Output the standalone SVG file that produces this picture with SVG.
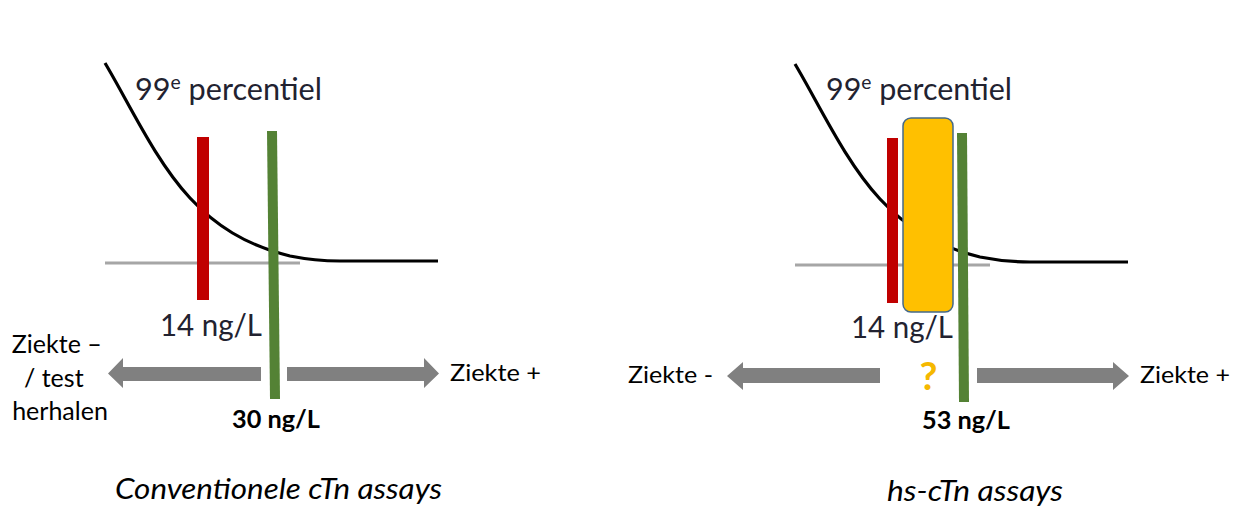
<svg xmlns="http://www.w3.org/2000/svg" width="1239" height="507" viewBox="0 0 1239 507">
  <style>
    .lbl { font-family: Lato, "Open Sans", "Liberation Sans", sans-serif; fill: #000; }
    .dark { fill: #222230; }
    .bold { font-weight: bold; }
    .title { font-family: Lato, "Open Sans", "Liberation Sans", sans-serif; font-style: italic; font-size: 29px; fill: #000; }
    .curve { fill: none; stroke: #000; stroke-width: 3.2; }
    .base { stroke: #a6a6a6; stroke-width: 3; fill: none; }
    .red { fill: #C00000; }
    .green { fill: #548235; }
    .arrow { fill: #808080; }
  </style>
  <defs>
    <path id="curveL" d="M105,63 C130,105 155,160 190,198 C215,225 245,245 290,256 C310,260 320,261 340,261 L438,261"/>
  </defs>
  <rect width="1239" height="507" fill="#fff"/>

  <!-- Left panel: conventional assays -->
  <g id="left-chart">
    <line class="base" x1="105" y1="263" x2="300" y2="263"/>
    <use href="#curveL" class="curve"/>
    <text class="lbl dark" x="135" y="100" font-size="30" textLength="187" lengthAdjust="spacingAndGlyphs">99<tspan font-size="19" dy="-11">e</tspan><tspan dy="11"> percentiel</tspan></text>
  </g>
  <g id="left-red-cutoff">
    <rect class="red" x="197" y="137" width="12" height="163"/>
    <text class="lbl dark" x="160" y="336" font-size="30" textLength="102" lengthAdjust="spacingAndGlyphs">14 ng/L</text>
  </g>
  <g id="left-green-cutoff">
    <polygon class="green" points="267,131 277,131 280,399 270,399"/>
    <text class="lbl bold" x="232" y="428" font-size="24" textLength="88" lengthAdjust="spacingAndGlyphs">30 ng/L</text>
  </g>
  <g id="left-neg-label">
    <text class="lbl" font-size="25" text-anchor="middle">
      <tspan x="60" y="353">Ziekte –</tspan>
      <tspan x="57" y="387">/ test</tspan>
      <tspan x="60" y="420">herhalen</tspan>
    </text>
  </g>
  <g id="left-pos-label">
    <text class="lbl" x="450" y="381" font-size="24" textLength="91" lengthAdjust="spacingAndGlyphs">Ziekte +</text>
  </g>
  <g id="left-title">
    <text class="title" x="115" y="499" textLength="327" lengthAdjust="spacingAndGlyphs">Conventionele cTn assays</text>
  </g>

  <!-- Right panel: hs assays -->
  <g id="right-chart">
    <line class="base" x1="795" y1="265" x2="990" y2="265"/>
    <use href="#curveL" class="curve" transform="translate(690,1)"/>
    <text class="lbl dark" x="826" y="100" font-size="30" textLength="186" lengthAdjust="spacingAndGlyphs">99<tspan font-size="19" dy="-11">e</tspan><tspan dy="11"> percentiel</tspan></text>
  </g>
  <g id="right-red-cutoff">
    <rect class="red" x="887" y="138" width="11" height="165"/>
  </g>
  <g id="grey-zone">
    <rect x="903" y="118" width="50" height="194" rx="8" ry="8" fill="#FFC000" stroke="#44698a" stroke-width="1.5"/>
    <text class="lbl dark" x="851" y="338" font-size="30" textLength="102" lengthAdjust="spacingAndGlyphs">14 ng/L</text>
    <text class="lbl bold" x="928.5" y="390" font-size="39" style="fill:#F5B800" text-anchor="middle">?</text>
  </g>
  <g id="right-green-cutoff">
    <polygon class="green" points="957,133 967,133 969,402 959,402"/>
    <text class="lbl bold" x="922" y="429" font-size="24" textLength="88" lengthAdjust="spacingAndGlyphs">53 ng/L</text>
  </g>
  <g id="right-neg-label">
    <text class="lbl" x="628" y="383" font-size="24" textLength="85" lengthAdjust="spacingAndGlyphs">Ziekte -</text>
  </g>
  <g id="right-pos-label">
    <text class="lbl" x="1140" y="383" font-size="24" textLength="90" lengthAdjust="spacingAndGlyphs">Ziekte +</text>
  </g>
  <g id="right-title">
    <text class="title" x="887" y="501" textLength="176" lengthAdjust="spacingAndGlyphs">hs-cTn assays</text>
  </g>

  <!-- Connectors: block arrows -->
  <g id="connectors">
    <polygon class="arrow" points="261,367 123,367 123,358 108,373.5 123,388 123,381 261,381"/>
    <polygon class="arrow" points="287,367 424,367 424,358 439,373.5 424,388 424,381 287,381"/>
    <polygon class="arrow" points="880,368 743,368 743,362 727,376 743,390 743,383 880,383"/>
    <polygon class="arrow" points="977,368 1113,368 1113,362 1129,376 1113,390 1113,383 977,383"/>
  </g>
</svg>
